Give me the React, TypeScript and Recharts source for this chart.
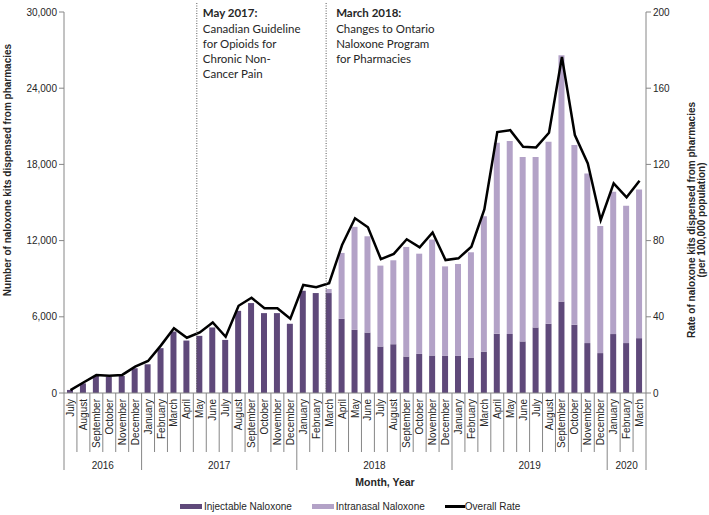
import { ComposedChart, Bar, Line, XAxis, YAxis, ReferenceLine, Legend } from "recharts";

const monthNames = [
  "July", "August", "September", "October", "November", "December",
  "January", "February", "March", "April", "May", "June", "July", "August", "September", "October", "November", "December",
  "January", "February", "March", "April", "May", "June", "July", "August", "September", "October", "November", "December",
  "January", "February", "March", "April", "May", "June", "July", "August", "September", "October", "November", "December",
  "January", "February", "March",
];
const monthYears = [
  "2016", "2016", "2016", "2016", "2016", "2016",
  "2017", "2017", "2017", "2017", "2017", "2017", "2017", "2017", "2017", "2017", "2017", "2017",
  "2018", "2018", "2018", "2018", "2018", "2018", "2018", "2018", "2018", "2018", "2018", "2018",
  "2019", "2019", "2019", "2019", "2019", "2019", "2019", "2019", "2019", "2019", "2019", "2019",
  "2020", "2020", "2020",
];

// kits dispensed
const injectable = [
  240, 760, 1340, 1290, 1340, 1950,
  2260, 3530, 4840, 4130, 4500, 5160, 4180, 6470, 7080, 6290, 6290, 5450,
  8050, 7870, 7870, 5840, 4970, 4760, 3660, 3840, 2870, 3080, 2950, 2920,
  2920, 2790, 3260, 4660, 4640, 4060, 5160, 5450, 7200, 5370, 3930, 3140,
  4640, 3930, 4320,
];
const intranasal = [
  0, 0, 0, 0, 0, 0,
  0, 0, 0, 0, 0, 0, 0, 0, 0, 0, 0, 0,
  0, 0, 320, 5190, 8110, 7580, 6370, 6610, 8630, 7890, 9130, 7050,
  7240, 8290, 10660, 15050, 15210, 14520, 13420, 14330, 19390, 14150, 13360, 10010,
  11210, 10820, 11710,
];
// per 100,000 population
const overallRate = [
  1.5, 5.5, 9.4, 9, 9.5, 13.8,
  16.8, 25, 34, 29, 31.8, 37, 29.5, 45.8, 50, 44.5, 44.5, 39,
  56.7, 55.5, 57.6, 77.7, 91.7, 87, 70.3, 73, 80.7, 76.5, 84.3, 69.8,
  70.7, 76.8, 96.4, 137, 138, 129.3, 128.9, 136.6, 176.4, 135.4, 120.5, 90.8,
  110, 102.7, 111.4,
];

const leftTicks = [0, 6000, 12000, 18000, 24000, 30000];
const rightTicks = [0, 40, 80, 120, 160, 200];

const notes = [
  { at: "May 2017", title: "May 2017:", lines: ["Canadian Guideline", "for Opioids for", "Chronic Non-", "Cancer Pain"], dx: 6 },
  { at: "March 2018", title: "March 2018:", lines: ["Changes to Ontario", "Naloxone Program", "for Pharmacies"], dx: 10 },
];

const data = monthNames.map((m, i) => ({
  key: `${m} ${monthYears[i]}`,
  month: m,
  year: monthYears[i],
  injectable: injectable[i],
  intranasal: intranasal[i],
  rate: overallRate[i],
}));

const W = 709;
const H = 515;
const LEFT_W = 64;
const RIGHT_W = 63;
const TOP = 12;
const BOTTOM = 393;
const STEP = (W - LEFT_W - RIGHT_W) / data.length;

const ARIAL = "'Liberation Sans', Arial, sans-serif";
const CALIBRI = "Lato, 'Open Sans', sans-serif";
const AXIS = "#868686";
const TEXT = "#262626";
const INJ = "#5f497a";
const NAS = "#b3a2c7";

function MonthTick(props: any) {
  const { x, payload } = props;
  const i = payload.index ?? props.index;
  const d = data[i];
  if (!d) return null;
  const left = x - STEP / 2;
  const yearStart = i === 0 || data[i - 1].year !== d.year;
  const out = [];
  out.push(
    <text key="m" transform={`translate(${x + 3.5},${BOTTOM + 6}) rotate(-90)`} textAnchor="end"
      fontSize={10} fontFamily={ARIAL} fill={TEXT}>{d.month}</text>
  );
  out.push(<line key="s" x1={left} x2={left} y1={BOTTOM} y2={yearStart ? BOTTOM + 77 : BOTTOM + 59} stroke={AXIS} />);
  if (i === data.length - 1) {
    out.push(<line key="e" x1={left + STEP} x2={left + STEP} y1={BOTTOM} y2={BOTTOM + 77} stroke={AXIS} />);
  }
  if (yearStart) {
    let n = 0;
    while (i + n < data.length && data[i + n].year === d.year) n++;
    out.push(
      <text key="y" x={left + (n * STEP) / 2} y={BOTTOM + 76} textAnchor="middle" fontSize={10}
        fontFamily={ARIAL} fill={TEXT}>{d.year}</text>
    );
  }
  return <g>{out}</g>;
}

function XTitle() {
  return (
    <text x={385} y={486} textAnchor="middle" fontSize={10.5} fontWeight="bold" fontFamily={ARIAL} fill={TEXT}>
      Month, Year
    </text>
  );
}

function LeftTitle() {
  return (
    <text transform={`translate(11,170) rotate(-90)`} textAnchor="middle" fontSize={10} fontWeight="bold"
      fontFamily={ARIAL} fill={TEXT}>
      Number of naloxone kits dispensed from pharmacies
    </text>
  );
}

function RightTitle() {
  return (
    <g fontSize={10} fontWeight="bold" fontFamily={ARIAL} fill={TEXT} textAnchor="middle">
      <text transform={`translate(694.5,220) rotate(-90)`}>Rate of naloxone kits dispensed from pharmacies</text>
      <text transform={`translate(705,220) rotate(-90)`}>(per 100,000 population)</text>
    </g>
  );
}

function noteShape(note: (typeof notes)[number]) {
  return (p: any) => {
    const lx = p.x1 - 3;
    return (
      <g>
        <line x1={lx} x2={lx} y1={3} y2={BOTTOM} stroke="#595959" strokeDasharray="1 1.5" />
        <g fontFamily={CALIBRI} fontSize={11.5} fill={TEXT}>
          <text x={lx + note.dx} y={17} fontWeight="bold">{note.title}</text>
          {note.lines.map((t, k) => (
            <text key={k} x={lx + note.dx} y={32.5 + k * 15.3}>{t}</text>
          ))}
        </g>
      </g>
    );
  };
}

function LegendBox() {
  const item = { display: "flex", alignItems: "center", marginRight: 20 } as const;
  return (
    <div style={{ height: 22, display: "flex", alignItems: "center", paddingLeft: 180, paddingTop: 5, boxSizing: "border-box",
      fontFamily: ARIAL, fontSize: 10, color: TEXT }}>
      <div style={item}>
        <span style={{ width: 22, height: 5, background: INJ, marginRight: 2 }} />
        <span>Injectable Naloxone</span>
      </div>
      <div style={item}>
        <span style={{ width: 22, height: 5, background: NAS, marginRight: 2 }} />
        <span>Intranasal Naloxone</span>
      </div>
      <div style={item}>
        <span style={{ width: 20, height: 2.5, background: "#000" }} />
        <span>Overall Rate</span>
      </div>
    </div>
  );
}

export default function App() {
  return (
    <div style={{ position: "absolute", left: 0, top: 0, width: W, height: H, background: "#fff" }}>
      <ComposedChart width={W} height={H} data={data} margin={{ top: TOP, right: 0, bottom: 0, left: 0 }}>
        <XAxis dataKey="key" interval={0} height={100} tick={<MonthTick />} tickLine={false} tickSize={0}
          axisLine={{ stroke: AXIS }} label={<XTitle />} />
        <YAxis yAxisId="left" width={LEFT_W} domain={[0, 30000]} ticks={leftTicks} tickSize={5}
          tickFormatter={(v) => v.toLocaleString("en-US")} tick={{ fontSize: 10, fontFamily: ARIAL, fill: TEXT }}
          axisLine={{ stroke: AXIS }} tickLine={{ stroke: AXIS }} label={<LeftTitle />} />
        <YAxis yAxisId="right" orientation="right" width={RIGHT_W} domain={[0, 200]} ticks={rightTicks} tickSize={5}
          tick={{ fontSize: 10, fontFamily: ARIAL, fill: TEXT }} axisLine={{ stroke: AXIS }} tickLine={{ stroke: AXIS }}
          label={<RightTitle />} />
        <Legend verticalAlign="bottom" content={<LegendBox />} wrapperStyle={{ left: 0, bottom: 0, width: W }} />
        <Bar yAxisId="left" dataKey="injectable" name="Injectable Naloxone" stackId="a" fill={INJ} barSize={6}
          isAnimationActive={false} />
        <Bar yAxisId="left" dataKey="intranasal" name="Intranasal Naloxone" stackId="a" fill={NAS} barSize={6}
          isAnimationActive={false} />
        <Line yAxisId="right" dataKey="rate" name="Overall Rate" type="linear" stroke="#000" strokeWidth={2.5}
          dot={false} isAnimationActive={false} />
        {notes.map((n) => (
          <ReferenceLine key={n.at} yAxisId="left" x={n.at} shape={noteShape(n)} />
        ))}
      </ComposedChart>
    </div>
  );
}
